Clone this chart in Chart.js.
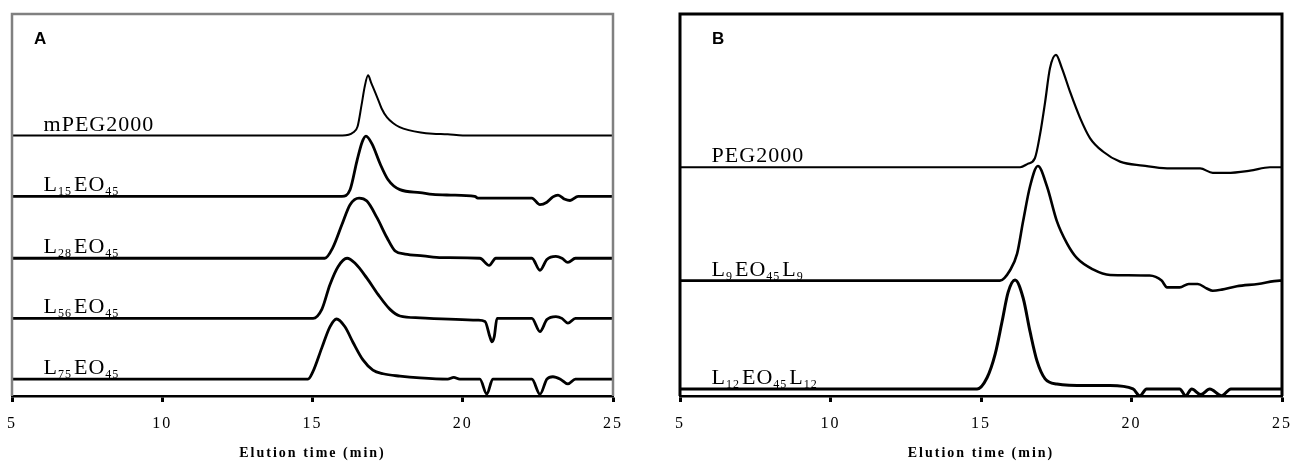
<!DOCTYPE html>
<html>
<head>
<meta charset="utf-8">
<script src="https://cdn.jsdelivr.net/npm/chart.js@4.4.1/dist/chart.umd.min.js"></script>
<style>
  body { margin: 0; background: #fff; }
  #wrap { position: relative; width: 1291px; height: 463px; overflow: hidden; }
  canvas { position: absolute; top: 0; }
</style>
</head>
<body>
<div id="wrap">
  <canvas id="chartA" width="645" height="463" style="left:0"></canvas>
  <canvas id="chartB" width="646" height="463" style="left:645px"></canvas>
</div>
<script>
/*  GPC traces, elution time (min) vs. normalized signal  */

// ---- panel A ----
const namesA = [['mPEG2000'], ['L', '15', 'EO', '45'], ['L', '28', 'EO', '45'], ['L', '56', 'EO', '45'], ['L', '75', 'EO', '45']];
const offsetsA = [4.33, 3.32, 2.29, 1.29, 0.28];

const timeA1 = [5, 16.0, 16.35, 16.5, 16.63, 16.74, 16.85, 16.95, 17.15, 17.3, 17.48, 17.7, 17.9, 18.2, 18.6, 19.0, 19.5, 20.0, 25];
const sigA1  = [0, 0, 0.05, 0.15, 0.5, 0.82, 1.0, 0.88, 0.64, 0.45, 0.3, 0.2, 0.14, 0.09, 0.05, 0.03, 0.02, 0, 0];

const timeA2 = [5, 15.98, 16.25, 16.48, 16.65, 16.78, 16.98, 17.25, 17.51, 17.91, 18.58, 19.0, 19.6, 20.4, 20.5, 22.3, 22.57, 22.8, 23.0, 23.17, 23.4, 23.57, 23.84, 25];
const sigA2  = [0, 0, 0.11, 0.59, 0.9, 1.0, 0.87, 0.54, 0.28, 0.11, 0.06, 0.03, 0.02, 0, -0.03, -0.03, -0.14, -0.1, -0.01, 0.02, -0.05, -0.07, 0, 0];

const timeA3 = [5, 15.41, 15.68, 15.98, 16.25, 16.55, 16.81, 17.15, 17.48, 17.75, 18.08, 18.68, 19.3, 20.57, 20.88, 21.1, 22.3, 22.57, 22.8, 23.1, 23.3, 23.5, 23.75, 25];
const sigA3  = [0, 0, 0.18, 0.56, 0.89, 1.0, 0.95, 0.67, 0.34, 0.12, 0.07, 0.04, 0.01, 0, -0.12, 0, 0, -0.2, -0.02, 0.03, 0, -0.07, 0, 0];

const timeA4 = [5, 15.02, 15.31, 15.58, 15.85, 16.15, 16.41, 16.81, 17.18, 17.58, 17.91, 18.58, 20.5, 20.74, 20.9, 20.97, 21.05, 21.14, 22.3, 22.57, 22.8, 23.1, 23.3, 23.5, 23.75, 25];
const sigA4  = [0, 0, 0.15, 0.56, 0.86, 1.0, 0.92, 0.67, 0.4, 0.15, 0.04, 0.01, -0.03, -0.05, -0.3, -0.39, -0.3, 0, 0, -0.22, -0.02, 0.03, 0, -0.08, 0, 0];

const timeA5 = [5, 14.85, 15.01, 15.31, 15.58, 15.8, 16.08, 16.35, 16.68, 17.01, 17.35, 17.91, 18.58, 19.5, 19.7, 19.9, 20.57, 20.8, 21.0, 22.3, 22.57, 22.8, 23.0, 23.25, 23.5, 23.75, 25];
const sigA5  = [0, 0, 0.12, 0.52, 0.87, 1.0, 0.87, 0.61, 0.32, 0.15, 0.09, 0.05, 0.02, 0, 0.03, 0, 0, -0.25, 0, 0, -0.25, 0, 0.04, 0, -0.08, 0, 0];

// ---- panel B ----
const namesB = [['PEG2000'], ['L', '9', 'EO', '45', 'L', '9'], ['L', '12', 'EO', '45', 'L', '12']];
const offsetsB = [2.036, 1.027, 0.0625];

const timeB1 = [5, 16.3, 16.55, 16.79, 16.96, 17.13, 17.29, 17.49, 17.69, 17.96, 18.29, 18.62, 19.05, 19.62, 20.38, 21.18, 22.28, 22.7, 23.17, 23.94, 24.6, 25];
const sigB1  = [0, 0, 0.03, 0.08, 0.29, 0.58, 0.88, 1.0, 0.88, 0.67, 0.44, 0.26, 0.14, 0.05, 0.015, -0.01, -0.01, -0.05, -0.05, -0.03, 0, 0];

const timeB2 = [5, 15.63, 15.96, 16.2, 16.4, 16.63, 16.89, 17.19, 17.52, 17.86, 18.19, 18.72, 19.29, 20.6, 21.0, 21.18, 21.6, 21.9, 22.2, 22.5, 22.7, 23.0, 23.5, 24.2, 24.93, 25];
const sigB2  = [0, 0, 0.09, 0.24, 0.53, 0.84, 1.02, 0.84, 0.53, 0.33, 0.2, 0.1, 0.05, 0.045, 0, -0.06, -0.06, -0.03, -0.03, -0.07, -0.09, -0.08, -0.05, -0.03, 0, 0];

const timeB3 = [5, 14.87, 15.2, 15.47, 15.7, 15.9, 16.13, 16.4, 16.63, 16.86, 17.13, 17.52, 18.5, 19.29, 20.05, 20.28, 20.5, 21.6, 21.8, 22.0, 22.3, 22.6, 23.0, 23.3, 25];
const sigB3  = [0, 0, 0.1, 0.31, 0.6, 0.86, 0.97, 0.81, 0.51, 0.25, 0.09, 0.045, 0.03, 0.03, 0, -0.06, 0, 0, -0.06, 0, -0.05, 0, -0.06, 0, 0];

const xTicks = [5, 10, 15, 20, 25];


// build datasets
function traces(times, sigs, offsets, widths) {
  return times.map((t, i) => ({
    data: t.map((v, j) => ({ x: v, y: sigs[i][j] + offsets[i] })),
    borderColor: '#000',
    borderWidth: widths[i],
    pointRadius: 0,
    cubicInterpolationMode: 'monotone',
    fill: false
  }));
}

const spacing = {
  id: 'spacing',
  beforeDraw(chart) { chart.ctx.letterSpacing = '2px'; }
};

const frame = {
  id: 'frame',
  afterDraw(chart, args, opts) {
    const { ctx, chartArea: a } = chart;
    ctx.save();
    ctx.strokeStyle = opts.color;
    ctx.lineWidth = opts.width;
    ctx.beginPath();
    ctx.moveTo(a.left, a.bottom);
    ctx.lineTo(a.left, a.top);
    ctx.lineTo(a.right, a.top);
    ctx.lineTo(a.right, a.bottom);
    ctx.stroke();
    ctx.restore();
  }
};

const traceLabels = {
  id: 'traceLabels',
  afterDraw(chart, args, opts) {
    const { ctx, chartArea: a, scales: { x, y } } = chart;
    ctx.save();
    ctx.fillStyle = '#000';
    ctx.textBaseline = 'alphabetic';
    ctx.textAlign = 'left';
    ctx.letterSpacing = '1px';
    opts.names.forEach((parts, i) => {
      let px = x.getPixelForValue(opts.at);
      const py = y.getPixelForValue(opts.offsets[i]) - 5;
      parts.forEach((s, k) => {
        const sub = k % 2 === 1;
        ctx.font = sub ? '12px "Liberation Serif"' : '22px "Liberation Serif"';
        ctx.fillText(s, px, sub ? py + 4 : py);
        px += ctx.measureText(s).width + (sub ? 2 : 0);
      });
    });
    ctx.font = 'bold 17px "Liberation Sans"';
    ctx.letterSpacing = '0px';
    ctx.fillText(opts.letter, a.left + opts.letterDx, a.top + 30);
    ctx.restore();
  }
};

function panel(id, datasets, yMax, pad, frameColor, frameWidth, names, offsets, letter, letterDx) {
  return new Chart(document.getElementById(id), {
    type: 'line',
    data: { datasets: datasets },
    options: {
      responsive: false,
      animation: false,
      devicePixelRatio: 1,
      layout: { padding: pad },
      plugins: {
        legend: { display: false },
        tooltip: { enabled: false },
        frame: { color: frameColor, width: frameWidth },
        traceLabels: { names: names, offsets: offsets, at: 6.05, letter: letter, letterDx: letterDx }
      },
      scales: {
        x: {
          type: 'linear', min: 5, max: 25,
          afterBuildTicks: s => { s.ticks = xTicks.map(v => ({ value: v })); },
          afterFit: s => { s.paddingLeft = 0; s.paddingRight = 0; },
          ticks: { color: '#000', font: { family: 'Liberation Serif', size: 16 }, padding: 12, maxRotation: 0 },
          grid: { display: true, drawOnChartArea: false, drawTicks: true, tickLength: 6, tickWidth: 3, tickColor: '#000' },
          border: { display: true, color: '#000', width: 2.5 },
          title: {
            display: true, text: 'Elution time (min)', color: '#000',
            font: { family: 'Liberation Serif', size: 14, weight: 'bold' },
            padding: { top: 0, bottom: 0 }
          }
        },
        y: { display: false, min: 0, max: yMax }
      }
    },
    plugins: [spacing, frame, traceLabels]
  });
}

panel('chartA',
  traces([timeA1, timeA2, timeA3, timeA4, timeA5], [sigA1, sigA2, sigA3, sigA4, sigA5], offsetsA, [2, 2.8, 2.8, 2.8, 2.8]),
  6.35, { left: 12, right: 32, top: 14, bottom: 1 }, '#808080', 2.5, namesA, offsetsA, 'A', 22);

panel('chartB',
  traces([timeB1, timeB2, timeB3], [sigB1, sigB2, sigB3], offsetsB, [2.2, 2.6, 3]),
  3.40, { left: 35, right: 9, top: 14, bottom: 1 }, '#000', 3, namesB, offsetsB, 'B', 32);
</script>
</body>
</html>
